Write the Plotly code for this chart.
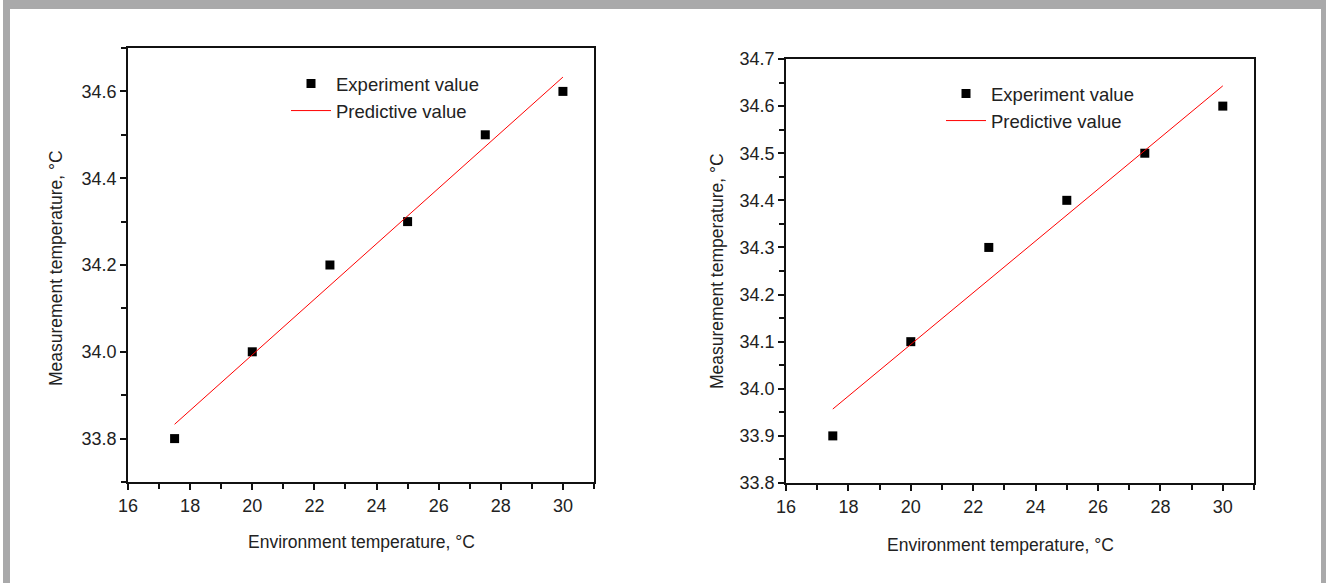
import plotly.graph_objects as go

W, H = 1326, 583

# ---- data ----
env_temp = [17.5, 20, 22.5, 25, 27.5, 30]
meas_left = [33.8, 34.0, 34.2, 34.3, 34.5, 34.6]
meas_right = [33.9, 34.1, 34.3, 34.4, 34.5, 34.6]
pred_x = [17.5, 30]
pred_left = [33.833, 34.633]
pred_right = [33.957, 34.643]

x_ticks = [16, 18, 20, 22, 24, 26, 28, 30]
y_ticks_left = [33.8, 34.0, 34.2, 34.4, 34.6]
y_ticks_left_text = ["33.8", "34.0", "34.2", "34.4", "34.6"]
y_ticks_right = [33.8, 33.9, 34.0, 34.1, 34.2, 34.3, 34.4, 34.5, 34.6, 34.7]

FONT = "Liberation Sans, Arial, sans-serif"
TXT = "#222222"
GRAY = "#a9a9aa"

def px(x):
    return x / W

def py(y):
    return 1 - y / H

fig = go.Figure()

fig.add_trace(go.Scatter(x=env_temp, y=meas_left, mode="markers", name="Experiment value",
                         marker=dict(symbol="square", size=9, color="black"),
                         xaxis="x", yaxis="y", legend="legend", legendgroup="a"))
fig.add_trace(go.Scatter(x=pred_x, y=pred_left, mode="lines", name="Predictive value",
                         line=dict(color="#ff0000", width=1),
                         xaxis="x", yaxis="y", legend="legend", legendgroup="b"))
fig.add_trace(go.Scatter(x=env_temp, y=meas_right, mode="markers", name="Experiment value",
                         marker=dict(symbol="square", size=9, color="black"),
                         xaxis="x2", yaxis="y2", legend="legend2", legendgroup="c"))
fig.add_trace(go.Scatter(x=pred_x, y=pred_right, mode="lines", name="Predictive value",
                         line=dict(color="#ff0000", width=1),
                         xaxis="x2", yaxis="y2", legend="legend2", legendgroup="d"))

axis_common = dict(showgrid=False, zeroline=False, showline=True, linecolor="#111111",
                   linewidth=1.8, mirror=True, ticks="outside", ticklen=6, tickwidth=1.5,
                   tickcolor="#111111", automargin=False,
                   tickfont=dict(family=FONT, size=18, color=TXT))

minor_common = dict(ticks="outside", ticklen=5, tickwidth=1.5, tickcolor="#111111")

fig.update_layout(
    template="none",
    width=W, height=H, autosize=False,
    margin=dict(l=0, r=0, t=0, b=0, pad=0, autoexpand=False),
    paper_bgcolor="white", plot_bgcolor="white",
    showlegend=True,
    xaxis=dict(domain=[px(128), px(594)], range=[16, 31], tickvals=x_ticks,
               minor=dict(dtick=1, tick0=17, **minor_common),
               anchor="y", **axis_common),
    yaxis=dict(domain=[py(482), py(48)], range=[33.7, 34.7], tickvals=y_ticks_left,
               ticktext=y_ticks_left_text,
               minor=dict(dtick=0.1, tick0=33.7, **minor_common),
               anchor="x", **axis_common),
    xaxis2=dict(domain=[px(786), px(1254)], range=[16, 31], tickvals=x_ticks,
                minor=dict(dtick=1, tick0=17, **minor_common),
                anchor="y2", **axis_common),
    yaxis2=dict(domain=[py(483), py(59)], range=[33.8, 34.7], tickvals=y_ticks_right,
                tickformat=".1f",
                minor=dict(dtick=0.05, tick0=33.8, **minor_common),
                anchor="x2", **axis_common),
    legend=dict(x=px(286), y=py(65), xanchor="left", yanchor="top", bgcolor="rgba(0,0,0,0)",
                borderwidth=0, itemwidth=40, font=dict(family=FONT, size=18.5, color=TXT),
                tracegroupgap=0),
    legend2=dict(x=px(941), y=py(75), xanchor="left", yanchor="top", bgcolor="rgba(0,0,0,0)",
                 borderwidth=0, itemwidth=40, font=dict(family=FONT, size=18.5, color=TXT),
                 tracegroupgap=0),
)

titles = [
    dict(text="Environment temperature, °C", x=px(362), y=py(542), textangle=0),
    dict(text="Measurement temperature, °C", x=px(56), y=py(268), textangle=-90),
    dict(text="Environment temperature, °C", x=px(1000), y=py(545), textangle=0),
    dict(text="Measurement temperature, °C", x=px(717), y=py(271), textangle=-90),
]
for t in titles:
    fig.add_annotation(xref="paper", yref="paper", x=t["x"], y=t["y"], text=t["text"],
                       textangle=t["textangle"], showarrow=False, xanchor="center", yanchor="middle",
                       font=dict(family=FONT, size=17.5, color=TXT))

# gray frame
frame = [
    (px(3), py(583), px(10), py(0)),
    (px(3), py(9), px(1326), py(0)),
    (px(1321), py(583), px(1326), py(0)),
]
for x0, y0, x1, y1 in frame:
    fig.add_shape(type="rect", xref="paper", yref="paper", x0=x0, y0=y0, x1=x1, y1=y1,
                  fillcolor=GRAY, line=dict(width=0), layer="above")

fig.write_html("out.html",
               post_script="document.body.style.margin='0';document.body.style.padding='0';"
                           "document.body.style.overflow='hidden';"
                           "document.documentElement.style.overflow='hidden';")
